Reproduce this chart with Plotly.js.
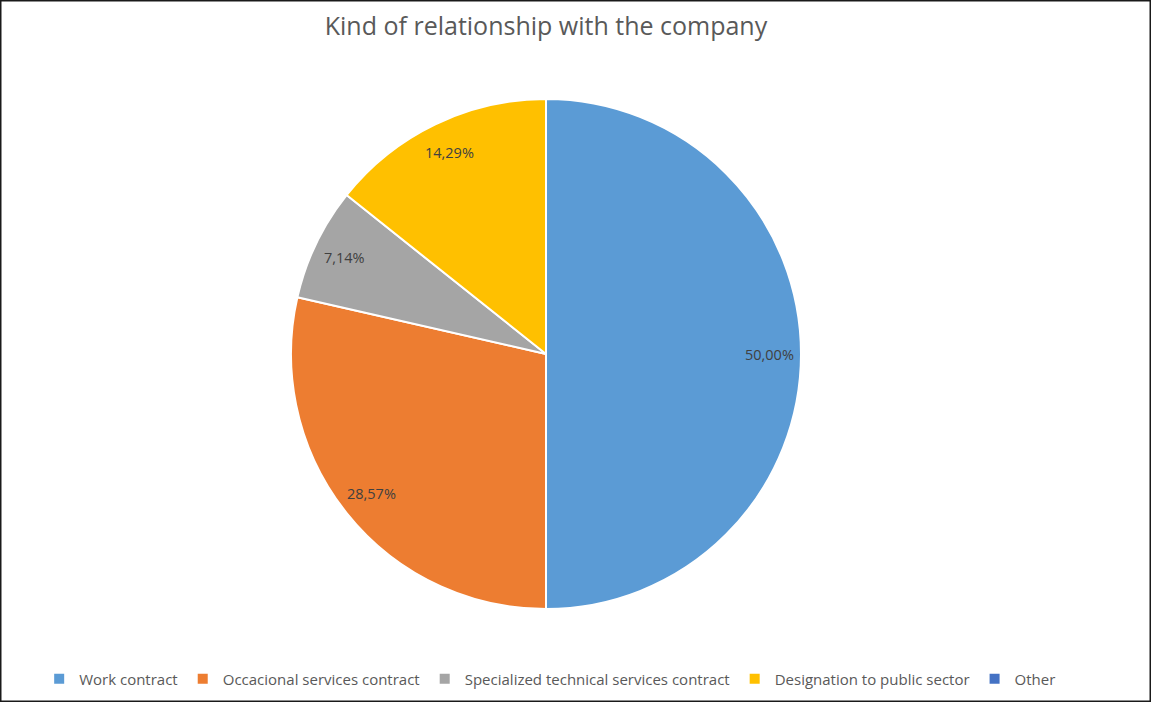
<!DOCTYPE html>
<html>
<head>
<meta charset="utf-8">
<script src="https://cdn.plot.ly/plotly-3.0.1.min.js"></script>
<style>html,body{margin:0;padding:0;background:#fff;}#chart{width:1151px;height:702px;}</style>
</head>
<body>
<div id="chart"></div>
<script>
const categories = ["Work contract", "Occacional services contract", "Specialized technical services contract", "Designation to public sector", "Other"];
const values = [50.00, 28.57, 7.14, 14.29, 0];
const labelsText = ["50,00%", "28,57%", "7,14%", "14,29%", ""];
const colors = ["#5B9BD5", "#ED7D31", "#A5A5A5", "#FFC000", "#4472C4"];

const W = 1151, H = 702;
const cxPx = 546, cyPx = 354, R = 255;
const domX = [(cxPx - R) / W, (cxPx + R) / W];
const domY = [1 - (cyPx + R) / H, 1 - (cyPx - R) / H];

const total = values.reduce((a, b) => a + b, 0);
const annotations = [];
let cum = 0;
const labelR = 0.875;
values.forEach((v, i) => {
  const mid = (cum + v / 2) / total;
  cum += v;
  if (!labelsText[i]) return;
  const ang = mid * 2 * Math.PI;
  const px = cxPx + Math.sin(ang) * R * labelR;
  const py = cyPx - Math.cos(ang) * R * labelR;
  annotations.push({
    x: px / W, y: 1 - py / H, xref: 'paper', yref: 'paper',
    text: labelsText[i], showarrow: false,
    xanchor: 'center', yanchor: 'middle',
    font: {family: 'Open Sans, sans-serif', size: 14.5, color: '#404040'}
  });
});

const data = [{
  type: 'pie',
  labels: categories,
  values: values,
  sort: false,
  direction: 'clockwise',
  rotation: 0,
  textinfo: 'none',
  hoverinfo: 'label+percent',
  marker: {colors: colors, line: {color: '#ffffff', width: 2}},
  domain: {x: domX, y: domY}
}];

const layout = {
  width: W, height: H,
  margin: {l: 0, r: 0, t: 0, b: 0},
  paper_bgcolor: '#ffffff',
  title: {
    text: 'Kind of relationship with the company',
    x: 546 / W, xanchor: 'center', xref: 'paper',
    y: 1 - 26 / H, yanchor: 'middle', yref: 'paper',
    font: {family: 'Open Sans, sans-serif', size: 25, color: '#595959'}
  },
  showlegend: true,
  legend: {
    orientation: 'h', x: 0.478, xanchor: 'center', y: 1 - 679 / H, yanchor: 'middle',
    font: {family: 'Open Sans, sans-serif', size: 15, color: '#595959'},
    traceorder: 'normal', itemclick: false
  },
  annotations: annotations,
  shapes: [{
    type: 'rect', xref: 'paper', yref: 'paper', x0: 0, x1: 1, y0: 0, y1: 1,
    line: {color: '#1a1a1a', width: 3}, fillcolor: 'rgba(0,0,0,0)'
  }]
};

Plotly.newPlot('chart', data, layout, {displayModeBar: false, staticPlot: true});
</script>
</body>
</html>
